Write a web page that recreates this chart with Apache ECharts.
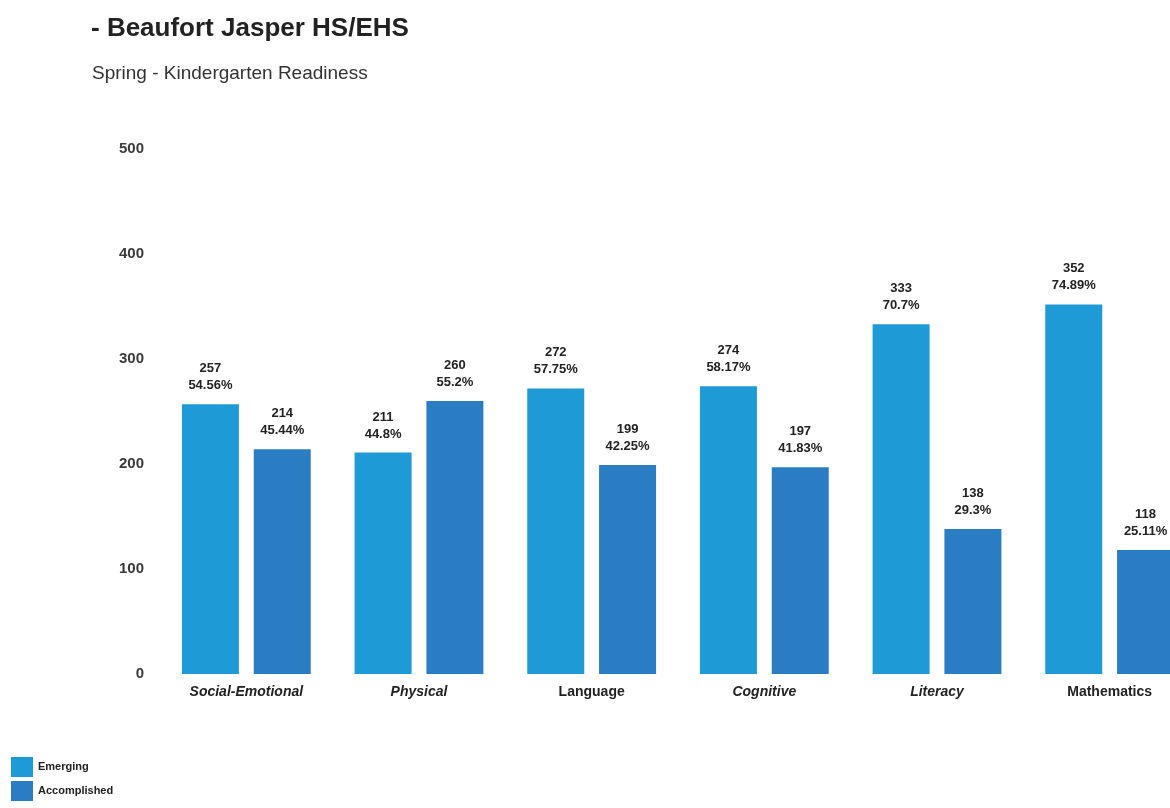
<!DOCTYPE html>
<html><head><meta charset="utf-8">
<script src="https://cdn.jsdelivr.net/npm/echarts@6/dist/echarts.min.js"></script>
<style>html,body{margin:0;padding:0;background:#fff;overflow:hidden}#c{width:1200px;height:808px}</style>
</head><body><div id="c"></div>
<script>
var categories = ['Social-Emotional','Physical','Language','Cognitive','Literacy','Mathematics'];
var emerging = [257, 211, 272, 274, 333, 352];
var accomplished = [214, 260, 199, 197, 138, 118];
var emergingPct = ['54.56%','44.8%','57.75%','58.17%','70.7%','74.89%'];
var accomplishedPct = ['45.44%','55.2%','42.25%','41.83%','29.3%','25.11%'];
var yTicks = [0,100,200,300,400,500];
var italicCats = ['Social-Emotional','Physical','Cognitive','Literacy'];

var chart = echarts.init(document.getElementById('c'));
function lbl(pcts){
  return {show:true, position:'top', distance:10, color:'#222', fontFamily:'Liberation Sans, Arial',
    fontSize:13, fontWeight:'bold', lineHeight:17,
    formatter:function(p){return p.value + '\n' + pcts[p.dataIndex];}};
}
chart.setOption({
  animation:false,
  title:[{text:'- Beaufort Jasper HS/EHS', left:91, top:16, padding:0,
          textStyle:{fontFamily:'Liberation Sans, Arial', fontSize:26, fontWeight:'bold', color:'#222'}},
         {text:'Spring - Kindergarten Readiness', left:92, top:64, padding:0,
          textStyle:{fontFamily:'Liberation Sans, Arial', fontSize:19, fontWeight:'normal', color:'#333'}}],
  legend:{orient:'vertical', left:11, top:757, padding:0, itemWidth:22, itemHeight:20, itemGap:4,
          icon:'rect', textStyle:{fontFamily:'Liberation Sans, Arial', fontSize:11, fontWeight:'bold', color:'#222'},
          data:['Emerging','Accomplished']},
  grid:{left:160, top:149, width:1036, height:525, containLabel:false},
  xAxis:{type:'category', data:categories, axisLine:{show:false}, axisTick:{show:false},
    axisLabel:{margin:11, color:'#222',
      formatter:function(v){return italicCats.indexOf(v)>=0 ? '{i|'+v+'}' : '{n|'+v+'}';},
      rich:{i:{fontStyle:'italic', fontWeight:'bold', fontSize:14, color:'#222', fontFamily:'Liberation Sans, Arial'},
            n:{fontWeight:'bold', fontSize:14, color:'#222', fontFamily:'Liberation Sans, Arial'}}}},
  yAxis:{type:'value', min:yTicks[0], max:yTicks[yTicks.length-1], interval:100,
    axisLine:{show:false}, axisTick:{show:false}, splitLine:{show:false},
    axisLabel:{margin:16, fontFamily:'Liberation Sans, Arial', fontSize:15, fontWeight:'bold', color:'#3a3a3a'}},
  series:[
    {name:'Emerging', type:'bar', data:emerging, barWidth:57, barGap:'26%',
     itemStyle:{color:'#1e9ad6'}, label:lbl(emergingPct)},
    {name:'Accomplished', type:'bar', data:accomplished, barWidth:57,
     itemStyle:{color:'#2b7dc3'}, label:lbl(accomplishedPct)}
  ]
});
</script></body></html>
